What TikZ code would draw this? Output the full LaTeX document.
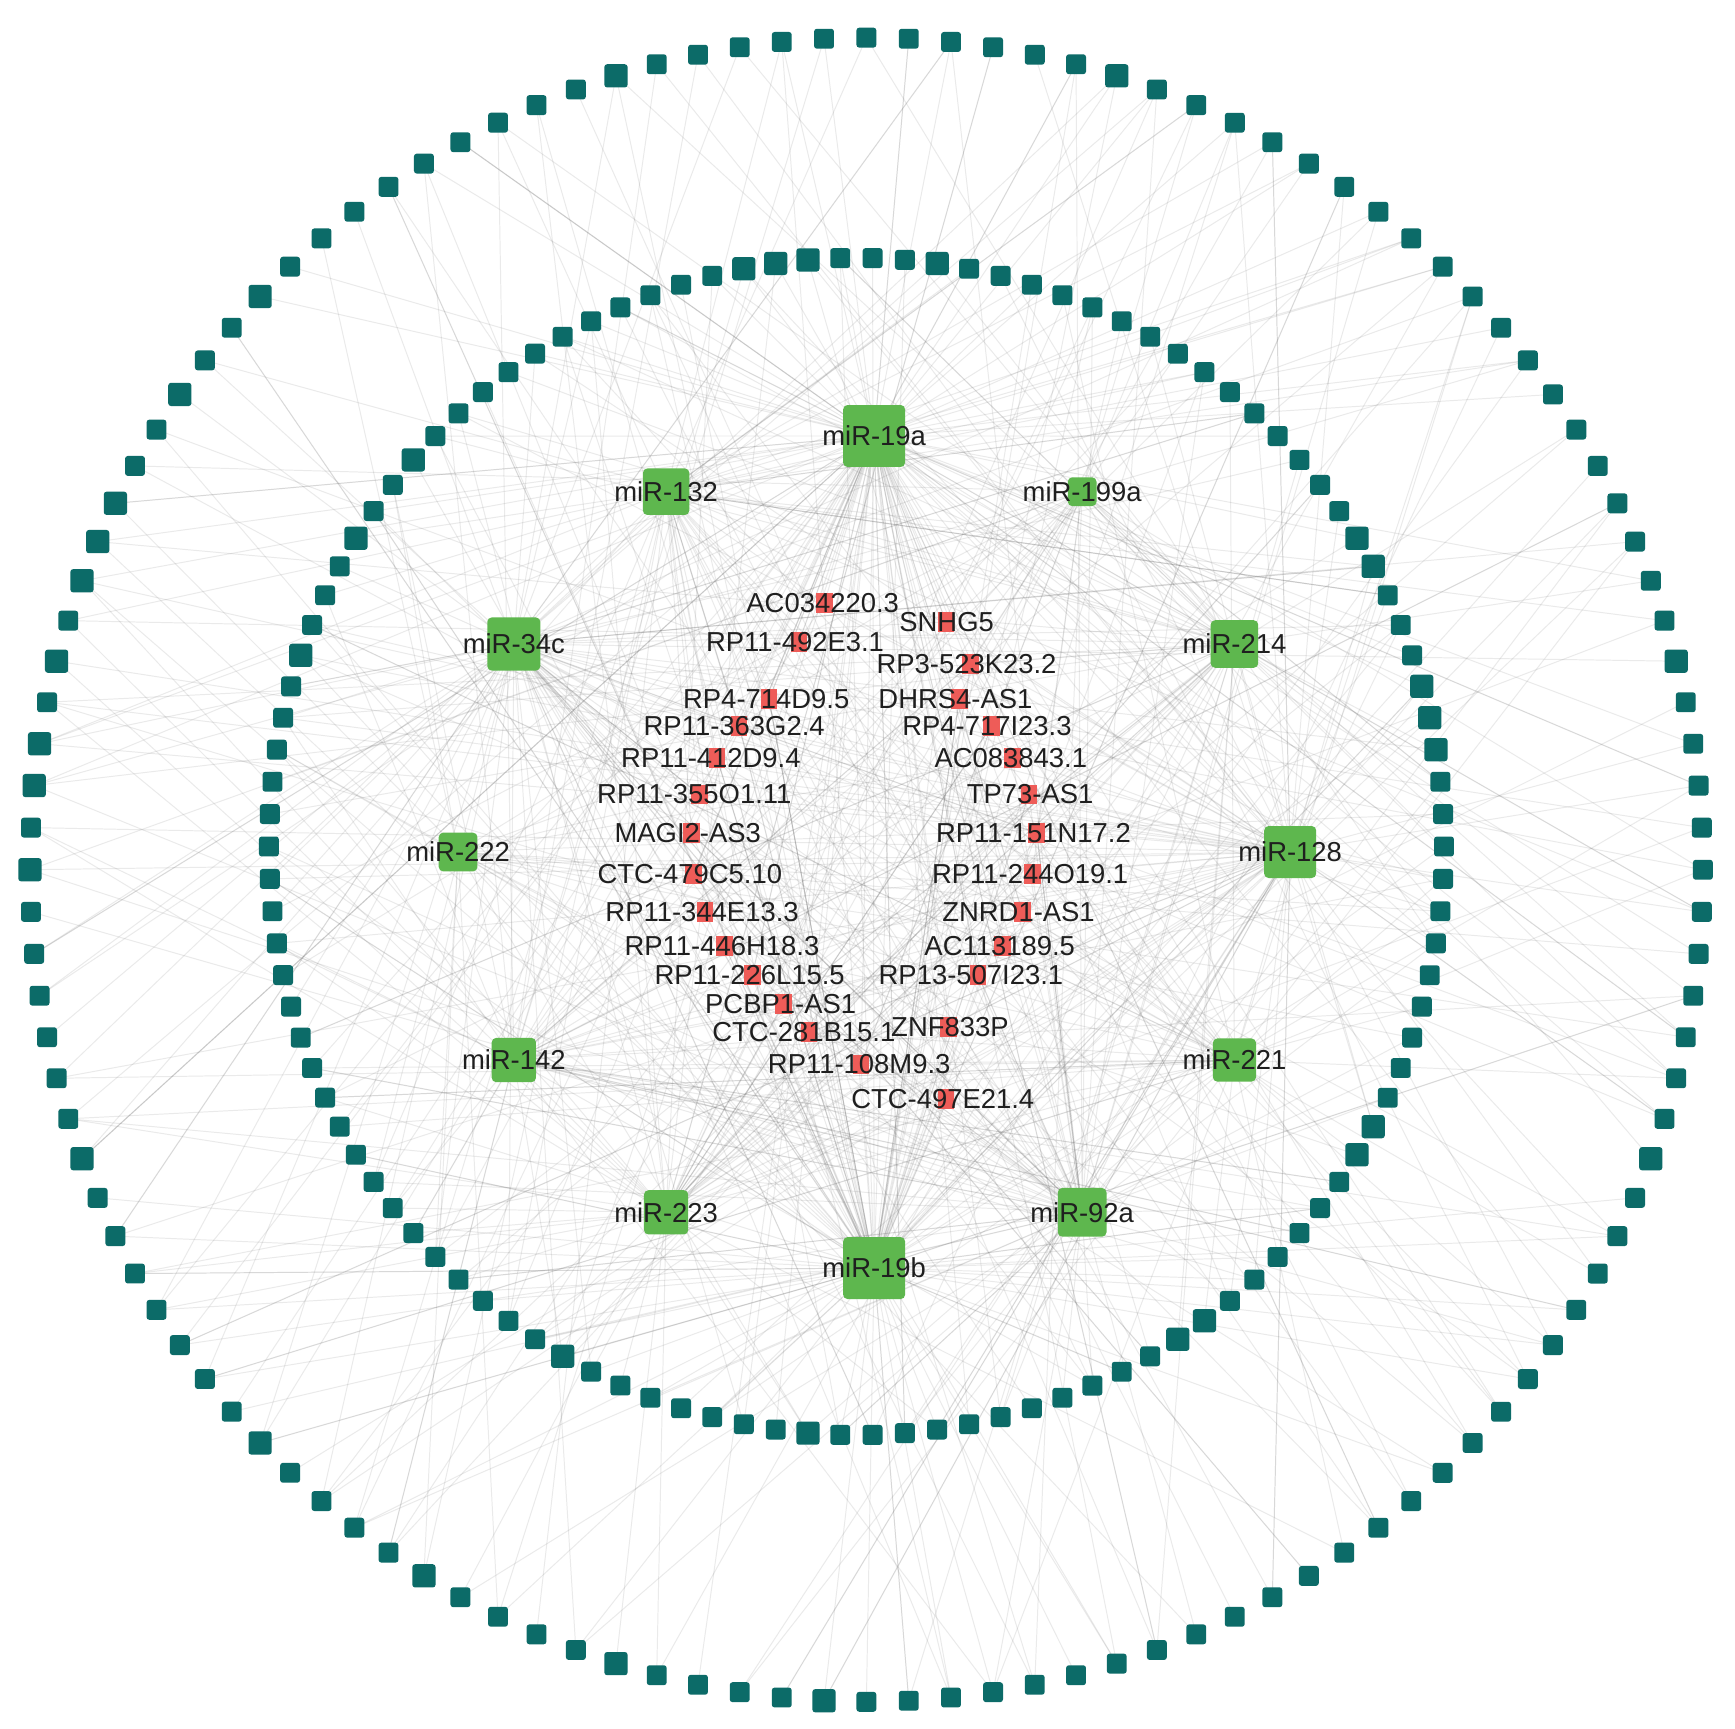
\documentclass[tikz,border=0pt]{standalone}
\usepackage{fontspec}
\setmainfont{Liberation Sans}
\pgfdeclarelayer{bg}
\pgfsetlayers{bg,main}
\definecolor{ringcol}{RGB}{12,107,104}
\definecolor{mircol}{RGB}{94,183,78}
\definecolor{lnccol}{RGB}{238,92,88}
\newlength\ux \setlength\ux{0.01cm}
\tikzset{
  ringnode/.style={shape=rectangle, fill=ringcol, draw=none, rounded corners=2.5\ux, minimum size=#1\ux, inner sep=0pt},
  mirnode/.style={shape=rectangle, fill=mircol, draw=none, rounded corners=4\ux, minimum size=#1\ux, inner sep=0pt},
  lncnode/.style={shape=rectangle, fill=lnccol, draw=none, minimum width=15\ux, minimum height=18\ux, inner sep=0pt},
  lbl/.style={font=\fontsize{7.05pt}{8pt}\selectfont, text=black!88, inner sep=0pt, anchor=center},
  edge/.style={draw=black!55, line width=0.25pt, opacity=0.15}
}
\def\wl{{1,1,1,1,1,7,7,7,7,7,3,3,3,10,10,10,8,8,8,11,11,2,2,6,6,5,5,9,9,4,12}}
\begin{document}
\begin{tikzpicture}[x=0.01cm,y=-0.01cm]
\useasboundingbox (0,0) rectangle (1568,1562);
\pgfmathsetseed{2718}
% outer ring
\foreach \k in {1,...,124}{
  \pgfmathsetmacro\angA{90+(\k-1)*(360/124)}
  \pgfmathrandominteger{\rrA}{0}{7}
  \pgfmathsetmacro\szA{18+3*(\rrA==0)}
  \node[ringnode=\szA] (o\k) at ({783+756*cos(\angA)},{786-752*sin(\angA)}) {};
}
% inner ring
\foreach \k in {1,...,114}{
  \pgfmathsetmacro\angA{90+(\k-0.5)*(360/114)}
  \pgfmathrandominteger{\rrA}{0}{7}
  \pgfmathsetmacro\szA{18+3*(\rrA==0)}
  \node[ringnode=\szA] (i\k) at ({774+531*cos(\angA)},{765-532*sin(\angA)}) {};
}
% miRNAs
\foreach \n/\angB/\szB/\txt in {1/90/56/miR-19a, 2/120/42/miR-132, 3/150/48/miR-34c,
   4/180/35/miR-222, 5/210/40/miR-142, 6/240/40/miR-223, 7/270/56/miR-19b,
   8/300/44/miR-92a, 9/330/39/miR-221, 10/0/47/miR-128, 11/30/43/miR-214, 12/60/26/miR-199a}{
  \node[mirnode=\szB] (m\n) at ({790+376*cos(\angB)},{770-376*sin(\angB)}) {};
  \node[lbl] (mt\n) at (m\n) {\txt};
}
% lncRNAs
\foreach \n/\rx/\ry/\tx/\txt in {
  1/745/545/743.5/AC034220.3, 2/855/562/855.5/SNHG5, 3/722/580/718.5/RP11-492E3.1,
  4/877/600/873.5/RP3-523K23.2, 5/695/632/692.5/RP4-714D9.5, 6/867/632/863.5/DHRS4-AS1,
  7/668/656/663.5/RP11-363G2.4, 8/896/656/892/RP4-717I23.3, 9/648/685/642.5/RP11-412D9.4,
  10/915/685/913.5/AC083843.1, 11/632/718/627.5/RP11-355O1.11, 12/930/718/931/TP73-AS1,
  13/625/753/621.5/MAGI2-AS3, 14/937/753/934/RP11-151N17.2, 15/627/790/623.5/CTC-479C5.10,
  16/933/790/931/RP11-244O19.1, 17/637/824/634.5/RP11-344E13.3, 18/924/824/920.5/ZNRD1-AS1,
  19/655/855/652.5/RP11-446H18.3, 20/906/855/903.5/AC113189.5, 21/680/881/677.5/RP11-226L15.5,
  22/884/881/877.5/RP13-507I23.1, 23/708/907/705.5/PCBP1-AS1, 24/857/928/858.5/ZNF833P,
  25/731/933/726.5/CTC-281B15.1, 26/778/962/776.5/RP11-108M9.3, 27/855/993/852/CTC-497E21.4}{
  \node[lncnode] (r\n) at (\rx,\ry) {};
  \node[lbl] (rt\n) at (\tx,\ry) {\txt};
}
% edges
\begin{pgfonlayer}{bg}
\fill[white] (0,0) rectangle (1568,1562);
\foreach \k in {1,...,124}{
  \pgfmathrandominteger{\nnA}{1}{4}
  \foreach \j in {1,...,\nnA}{
    \pgfmathrandominteger{\rrA}{0}{30}
    \pgfmathtruncatemacro\mtA{\wl[\rrA]}
    \draw[edge] (o\k.center) -- (m\mtA.center);
  }
}
\foreach \k in {1,...,114}{
  \pgfmathrandominteger{\nnA}{1}{4}
  \foreach \j in {1,...,\nnA}{
    \pgfmathrandominteger{\rrA}{0}{30}
    \pgfmathtruncatemacro\mtA{\wl[\rrA]}
    \draw[edge] (i\k.center) -- (m\mtA.center);
  }
}
\foreach \k in {1,...,27}{
  \pgfmathrandominteger{\nnA}{4}{8}
  \foreach \j in {1,...,\nnA}{
    \pgfmathrandominteger{\rrA}{0}{30}
    \pgfmathtruncatemacro\mtA{\wl[\rrA]}
    \draw[edge] (r\k.center) -- (m\mtA.center);
  }
}
\end{pgfonlayer}
\end{tikzpicture}
\end{document}
